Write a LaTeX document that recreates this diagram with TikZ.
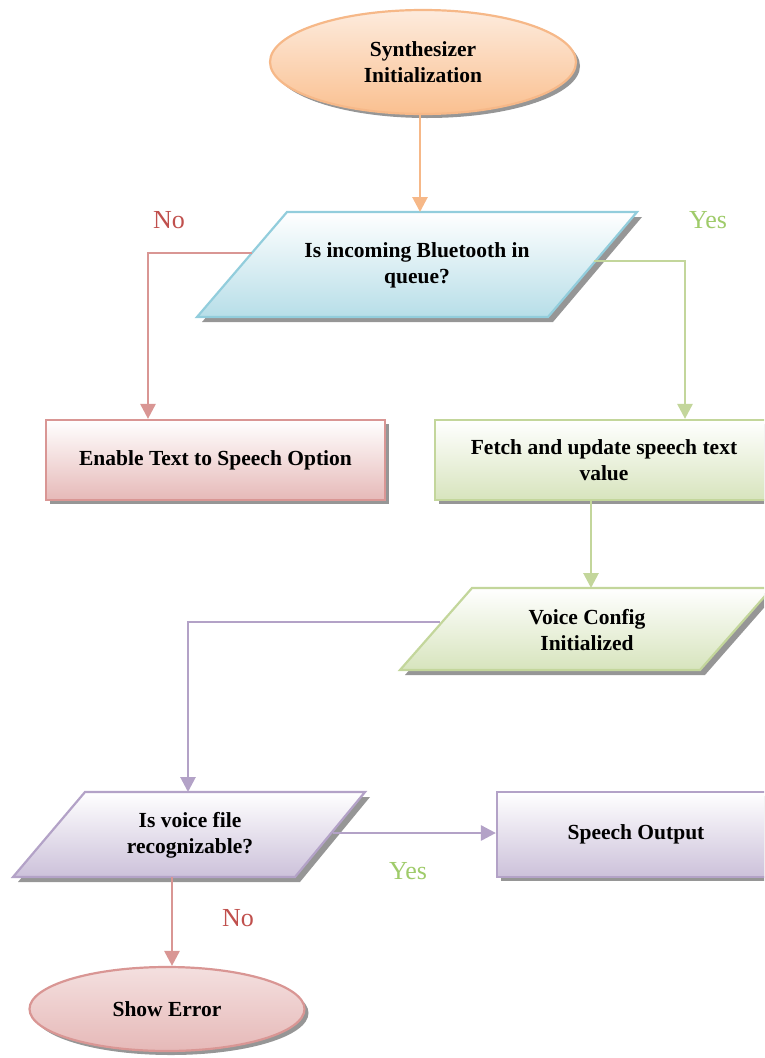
\documentclass[tikz,border=0pt]{standalone}
\usepackage{fontspec}
\setmainfont{Liberation Serif}
\usetikzlibrary{shapes.geometric,arrows.meta,shadows}

\definecolor{orgline}{HTML}{F6B888}
\definecolor{orgfill}{HTML}{FAC090}
\definecolor{orgtop}{HTML}{FDEBDD}
\definecolor{blueline}{HTML}{92CDDC}
\definecolor{bluefill}{HTML}{B7DEE8}
\definecolor{redline}{HTML}{D99694}
\definecolor{redfill}{HTML}{E6B9B8}
\definecolor{greenline}{HTML}{C3D69B}
\definecolor{greenfill}{HTML}{D7E4BD}
\definecolor{purpline}{HTML}{B3A2C7}
\definecolor{purpfill}{HTML}{CCC1DA}
\definecolor{nocol}{HTML}{C0504D}
\definecolor{yescol}{HTML}{9FCB6A}
\definecolor{shadowcol}{HTML}{969696}

\begin{document}
\begin{tikzpicture}[x=1pt,y=-1pt,
  txt/.style={align=center, inner sep=0pt, font=\bfseries\fontsize{21.5}{26}\selectfont},
  box/.style={txt, draw, line width=2.2pt,
    drop shadow={shadow xshift=4pt, shadow yshift=-4pt, fill=shadowcol, opacity=1}},
  slant/.style={line width=2.2pt},
  slantshadow/.style={fill=shadowcol},
  flow/.style={line width=2.8pt, -{Triangle[width=15pt,length=15pt]}},
  lbl/.style={font=\fontsize{26}{28}\selectfont, inner sep=0pt}]

\useasboundingbox (0,0) rectangle (764,1058);
\clip (0,0) rectangle (764,1058);

% start ellipse
\node[box, ellipse, draw=orgline, top color=orgtop, bottom color=orgfill,
      minimum width=306pt, minimum height=104pt] (start) at (423,62)
      {Synthesizer\\Initialization};

% first decision (parallelogram)
\fill[slantshadow] (292,217) -- (642,217) -- (553,322) -- (202,322) -- cycle;
\path[slant, draw=blueline, top color=white, bottom color=bluefill]
  (287,212) -- (637,212) -- (548,317) -- (197,317) -- cycle;
\node[txt] (q1) at (417,265) {Is incoming Bluetooth in\\queue?};
\coordinate (q1top) at (420,212);
\coordinate (q1w) at (252,253);
\coordinate (q1e) at (594,261);
\coordinate (noTurn) at (148,253);
\coordinate (yesTurn) at (685,261);

% process boxes
\node[box, draw=redline, top color=white, bottom color=redfill,
      minimum width=339pt, minimum height=80pt] (enable) at (215.5,460)
      {Enable Text to Speech Option};
\node[box, draw=greenline, top color=white, bottom color=greenfill,
      minimum width=338pt, minimum height=80pt] (fetch) at (604,460)
      {Fetch and update speech text\\value};
\coordinate (fetchOut) at (591,500);

% voice config (parallelogram)
\fill[slantshadow] (477,593) -- (777,593) -- (705,675) -- (405,675) -- cycle;
\path[slant, draw=greenline, top color=white, bottom color=greenfill]
  (472,588) -- (772,588) -- (700,670) -- (400,670) -- cycle;
\node[txt] (voice) at (587,630) {Voice Config\\Initialized};
\coordinate (voiceTop) at (591,588);
\coordinate (voiceW) at (440,622);
\coordinate (voiceTurn) at (188,622);

% second decision (parallelogram)
\fill[slantshadow] (90,797) -- (370,797) -- (300,882) -- (18,882) -- cycle;
\path[slant, draw=purpline, top color=white, bottom color=purpfill]
  (85,792) -- (365,792) -- (295,877) -- (13,877) -- cycle;
\node[txt] (q2) at (190,835) {Is voice file\\recognizable?};
\coordinate (q2top) at (188,792);
\coordinate (q2e) at (333,833);
\coordinate (q2s) at (172,877);

\node[box, draw=purpline, top color=white, bottom color=purpfill,
      minimum width=278pt, minimum height=85pt] (speech) at (636,834.5)
      {Speech Output};

% error ellipse
\node[box, ellipse, draw=redline, top color=redfill!45, bottom color=redfill,
      minimum width=275pt, minimum height=84pt] (err) at (167,1009)
      {Show Error};

% connectors
\draw[flow, color=orgline] (start.south -| q1top) -- (q1top);
\draw[flow, color=redline] (q1w) -- (noTurn) -- (noTurn |- enable.north);
\draw[flow, color=greenline] (q1e) -- (yesTurn) -- (yesTurn |- fetch.north);
\draw[flow, color=greenline] (fetchOut) -- (voiceTop);
\draw[flow, color=purpline] (voiceW) -- (voiceTurn) -- (q2top);
\draw[flow, color=purpline] (q2e) -- (q2e -| speech.west);
\draw[flow, color=redline] (q2s) -- (q2s |- err.north);

% branch labels
\node[lbl, text=nocol] (no1) at (169,220) {No};
\node[lbl, text=yescol] (yes1) at (708,220) {Yes};
\node[lbl, text=yescol] (yes2) at (408,871) {Yes};
\node[lbl, text=nocol] (no2) at (238,918) {No};
\end{tikzpicture}
\end{document}
